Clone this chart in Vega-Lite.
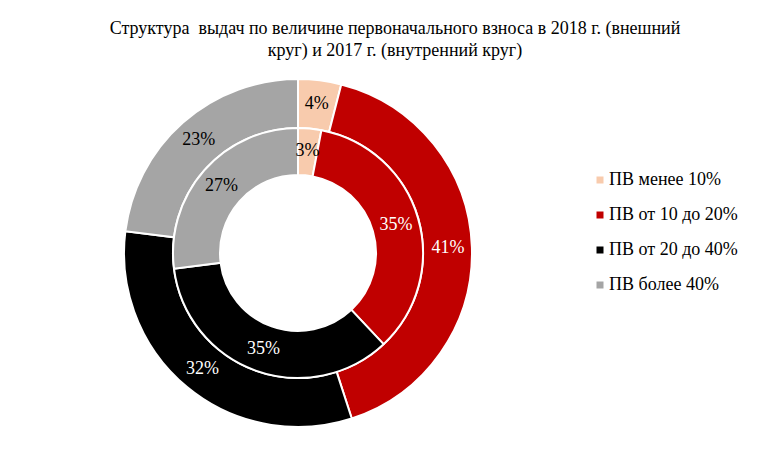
{
  "$schema": "https://vega.github.io/schema/vega-lite/v6.json",
  "width": 596,
  "height": 354,
  "autosize": {"type": "none"},
  "padding": {"left": 0, "top": 76, "right": 181, "bottom": 24},
  "background": "white",
  "config": {"view": {"stroke": null}, "font": "Liberation Serif", "text": {"font": "Liberation Serif"}},
  "title": {
    "text": ["Структура\u00a0 выдач по величине первоначального взноса в 2018 г. (внешний", "круг) и 2017 г. (внутренний круг)"],
    "font": "Liberation Serif",
    "fontSize": 18,
    "fontWeight": "normal",
    "color": "#000000",
    "anchor": "middle",
    "dx": 97,
    "offset": 15,
    "lineHeight": 22
  },
  "data": {
    "values": [
      {"year": 2018, "cat": "ПВ менее 10%", "value": 0.04, "order": 1},
      {"year": 2018, "cat": "ПВ от 10 до 20%", "value": 0.41, "order": 2},
      {"year": 2018, "cat": "ПВ от 20 до 40%", "value": 0.32, "order": 3},
      {"year": 2018, "cat": "ПВ более 40%", "value": 0.23, "order": 4},
      {"year": 2017, "cat": "ПВ менее 10%", "value": 0.03, "order": 1},
      {"year": 2017, "cat": "ПВ от 10 до 20%", "value": 0.35, "order": 2},
      {"year": 2017, "cat": "ПВ от 20 до 40%", "value": 0.35, "order": 3},
      {"year": 2017, "cat": "ПВ более 40%", "value": 0.27, "order": 4}
    ]
  },
  "encoding": {
    "theta": {"field": "value", "type": "quantitative", "stack": true},
    "order": {"field": "order", "type": "quantitative"}
  },
  "layer": [
    {
      "transform": [{"filter": "datum.year == 2018"}],
      "mark": {"type": "arc", "radius": 174, "radius2": 125, "stroke": "white", "strokeWidth": 2},
      "encoding": {
        "color": {
          "field": "cat",
          "type": "nominal",
          "scale": {
            "domain": ["ПВ менее 10%", "ПВ от 10 до 20%", "ПВ от 20 до 40%", "ПВ более 40%"],
            "range": ["#F8CBAD", "#C00000", "#000000", "#A5A5A5"]
          },
          "legend": {
            "orient": "none",
            "legendX": 591,
            "legendY": 95,
            "title": null,
            "symbolType": "square",
            "symbolSize": 49,
            "symbolStrokeWidth": 0,
            "labelFont": "Liberation Serif",
            "labelFontSize": 18,
            "labelColor": "#000000",
            "labelOffset": 0,
            "rowPadding": 17
          }
        }
      }
    },
    {
      "transform": [{"filter": "datum.year == 2017"}],
      "mark": {"type": "arc", "radius": 125, "radius2": 78, "stroke": "white", "strokeWidth": 2},
      "encoding": {
        "color": {"field": "cat", "type": "nominal"}
      }
    },
    {
      "transform": [{"filter": "datum.year == 2018"}],
      "mark": {"type": "text", "radius": 150, "font": "Liberation Serif", "fontSize": 18},
      "encoding": {
        "text": {"field": "value", "type": "quantitative", "format": ".0%"},
        "color": {
          "condition": {"test": "datum.order == 2 || datum.order == 3", "value": "white"},
          "value": "black"
        }
      }
    },
    {
      "transform": [{"filter": "datum.year == 2017"}],
      "mark": {"type": "text", "radius": 102, "font": "Liberation Serif", "fontSize": 18},
      "encoding": {
        "text": {"field": "value", "type": "quantitative", "format": ".0%"},
        "color": {
          "condition": {"test": "datum.order == 2 || datum.order == 3", "value": "white"},
          "value": "black"
        }
      }
    }
  ]
}
